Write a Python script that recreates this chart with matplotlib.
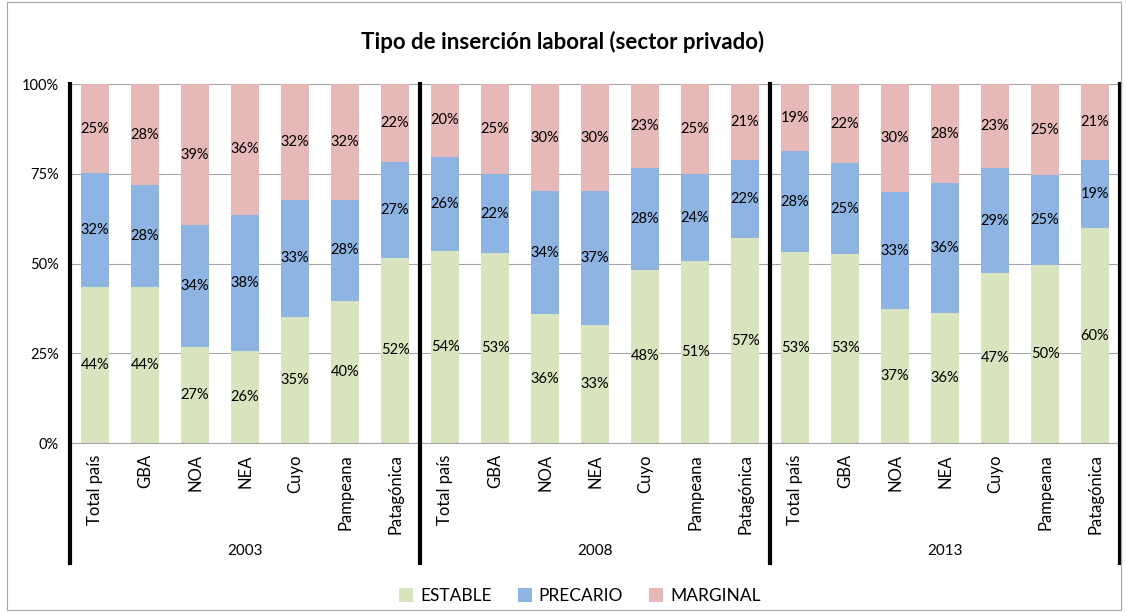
import numpy as np
import matplotlib
matplotlib.use('Agg')
import matplotlib.pyplot as plt
from matplotlib.patches import Rectangle

plt.rcParams['font.family'] = ['Lato', 'DejaVu Sans']

# datos
years = ['2003', '2008', '2013']
regions = ['Total país', 'GBA', 'NOA', 'NEA', 'Cuyo', 'Pampeana', 'Patagónica']

estable = [43.6, 43.6, 26.7, 25.6, 35.2, 39.6, 51.6,
           53.6, 52.9, 35.9, 32.9, 48.3, 50.6, 57.1,
           53.2, 52.7, 37.3, 36.2, 47.3, 49.6, 59.9]
precario = [31.5, 28.2, 34.0, 38.0, 32.6, 28.1, 26.6,
            26.1, 22.0, 34.3, 37.3, 28.4, 24.3, 21.7,
            28.1, 25.2, 32.6, 36.1, 29.3, 25.0, 18.9]
marginal = [24.9, 28.2, 39.3, 36.4, 32.2, 32.3, 21.8,
            20.3, 25.1, 29.8, 29.8, 23.3, 25.1, 21.2,
            18.7, 22.1, 30.1, 27.7, 23.4, 25.4, 21.2]

colors = {'ESTABLE': '#d7e4bd', 'PRECARIO': '#8eb4e3', 'MARGINAL': '#e6b9b8'}

fig = plt.figure(figsize=(11.26, 6.12), dpi=100)
fig.patches.append(Rectangle((0.006, 0.004), 0.99, 0.992, transform=fig.transFigure,
                             fill=False, edgecolor='#a6a6a6', linewidth=0.8))
ax = fig.add_axes([0.0622, 0.2761, 0.9325, 0.5866])

series = [('ESTABLE', np.array(estable)), ('PRECARIO', np.array(precario)),
          ('MARGINAL', np.array(marginal))]
total = sum(s for _, s in series)
x = np.arange(len(estable))
bottom = np.zeros(len(x))
for name, vals in series:
    frac = vals / total
    ax.bar(x, frac, 0.56, bottom=bottom, color=colors[name], label=name, zorder=2)
    for xi, b, f, v in zip(x, bottom, frac, vals):
        ax.text(xi, b + f / 2, f'{v:.0f}%', ha='center', va='center', fontsize=10.5, zorder=3)
    bottom += frac

ax.set_xlim(-0.5, len(x) - 0.5)
ax.set_ylim(0, 1)
ax.set_yticks([0, 0.25, 0.5, 0.75, 1.0])
ax.set_yticklabels(['0%', '25%', '50%', '75%', '100%'], fontsize=10.5)
ax.yaxis.grid(True, color='#a6a6a6', linewidth=0.8, zorder=0)
ax.tick_params(axis='y', length=0, pad=8)
ax.tick_params(axis='x', length=0, pad=8)
ax.set_xticks(x)
ax.set_xticklabels(regions * len(years), rotation=90, fontsize=12, va='top')
for side in ['top', 'right', 'left']:
    ax.spines[side].set_visible(False)
ax.spines['bottom'].set_color('#a6a6a6')

# separadores de grupo
n = len(regions)
for k in range(len(years) + 1):
    ax.axvline(k * n - 0.5, ymin=-0.334, ymax=1, color='black', linewidth=3,
               clip_on=False, zorder=4)
for k, yr in enumerate(years):
    ax.text(k * n + (n - 1) / 2, -0.30, yr, ha='center', va='center', fontsize=11,
            transform=ax.get_xaxis_transform())

fig.text(0.5, 0.931, 'Tipo de inserción laboral (sector privado)', ha='center',
         va='center', fontsize=16, fontweight='bold')
fig.legend(loc='center', bbox_to_anchor=(0.515, 0.026), ncol=3, frameon=False,
           fontsize=12.5, handlelength=0.8, handleheight=0.8, columnspacing=1.5,
           handletextpad=0.4)

fig.savefig('out.png', dpi=100)
